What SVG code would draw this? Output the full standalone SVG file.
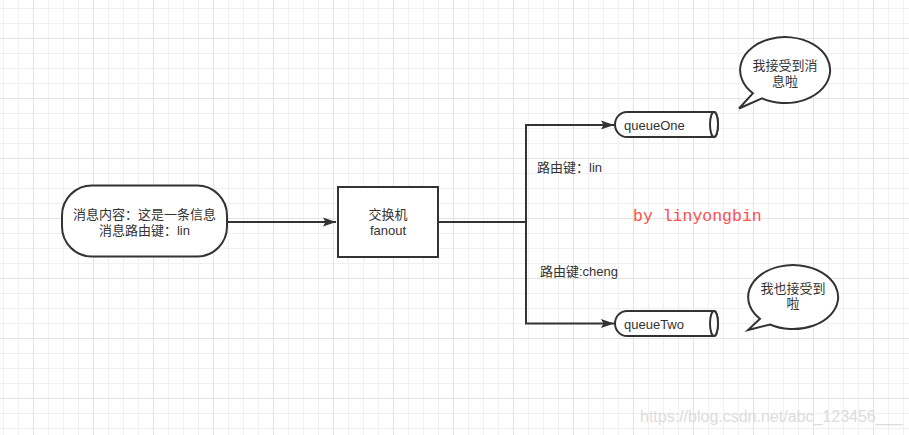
<svg xmlns="http://www.w3.org/2000/svg" width="909" height="435" viewBox="0 0 909 435">
  <style>
    .shape { fill: #ffffff; stroke: #333333; stroke-width: 2; }
    .edge { fill: none; stroke: #333333; stroke-width: 2; }
    .txt { font-family: "Liberation Sans", "Noto Sans CJK SC", sans-serif; font-size: 13px; fill: #333333; }
    .mid { text-anchor: middle; }
  </style>
  <defs>
    <pattern id="grid" x="3" y="8" width="60" height="60" patternUnits="userSpaceOnUse">
      <rect x="0" y="0" width="60" height="60" fill="#ffffff"/>
      <g fill="#f0f0f0">
        <rect x="0" y="0" width="1" height="60"/>
        <rect x="15" y="0" width="1" height="60"/>
        <rect x="45" y="0" width="1" height="60"/>
        <rect x="0" y="0" width="60" height="1"/>
        <rect x="0" y="15" width="60" height="1"/>
        <rect x="0" y="45" width="60" height="1"/>
      </g>
      <g fill="#e3e3e3">
        <rect x="30" y="0" width="1" height="60"/>
        <rect x="0" y="30" width="60" height="1"/>
      </g>
    </pattern>
    <marker id="arrow" viewBox="0 0 14 10" refX="13" refY="5" markerWidth="14" markerHeight="10" markerUnits="userSpaceOnUse" orient="auto">
      <path d="M0,0.5 L13,5 L0,9.5 L2.5,5 Z" fill="#333333"/>
    </marker>
  </defs>
  <rect x="0" y="0" width="909" height="435" fill="url(#grid)"/>

  <g id="connectors">
    <path class="edge" d="M227,222 H336" marker-end="url(#arrow)"/>
    <path class="edge" d="M438,222 H526 V125 H614" marker-end="url(#arrow)"/>
    <path class="edge" d="M438,222 H526 V323.5 H614" marker-end="url(#arrow)"/>
    <text class="txt" x="537" y="172">路由键：lin</text>
    <text class="txt" x="540" y="276">路由键:cheng</text>
  </g>

  <g id="message">
    <rect class="shape" x="62" y="185.5" width="165" height="71" rx="30" ry="30"/>
    <text class="txt mid" x="144.5" y="219">消息内容：这是一条信息</text>
    <text class="txt mid" x="144.5" y="235">消息路由键：lin</text>
  </g>

  <g id="exchange">
    <rect class="shape" x="338" y="187" width="100" height="70"/>
    <text class="txt mid" x="388" y="219">交换机</text>
    <text class="txt mid" x="388" y="235">fanout</text>
  </g>

  <g id="queueOne">
    <path class="shape" d="M627,112 H714 A4,12.5 0 0 1 714,137 H627 A12,12.5 0 0 1 627,112 Z"/>
    <ellipse class="shape" cx="714" cy="124.5" rx="4" ry="12.5"/>
    <text class="txt" x="624" y="130">queueOne</text>
  </g>

  <g id="queueTwo">
    <path class="shape" d="M627,311 H714 A4,12.5 0 0 1 714,336 H627 A12,12.5 0 0 1 627,311 Z"/>
    <ellipse class="shape" cx="714" cy="323.5" rx="4" ry="12.5"/>
    <text class="txt" x="624" y="329">queueTwo</text>
  </g>

  <g id="bubbleOne">
    <path class="shape" d="M753,93.2 A45,33 0 1 1 762,98.4 L739,108.5 Z"/>
    <text class="txt mid" x="785" y="69.5">我接受到消</text>
    <text class="txt mid" x="785" y="85.5">息啦</text>
  </g>

  <g id="bubbleTwo">
    <path class="shape" d="M760,318.7 A45,32 0 1 1 770,324.5 L748,330 Z"/>
    <text class="txt mid" x="793" y="292.5">我也接受到</text>
    <text class="txt mid" x="793" y="308">啦</text>
  </g>

  <g id="signature">
    <text x="633" y="221" font-family="Liberation Mono, 'Noto Sans CJK SC', monospace" font-size="16.5" fill="#ff4d4d">by linyongbin</text>
  </g>

  <g id="watermark">
    <text x="640" y="422" font-family="Liberation Sans, sans-serif" font-size="16" fill="#dcdcdc">https://blog.csdn.net/abc_123456___</text>
  </g>
</svg>
